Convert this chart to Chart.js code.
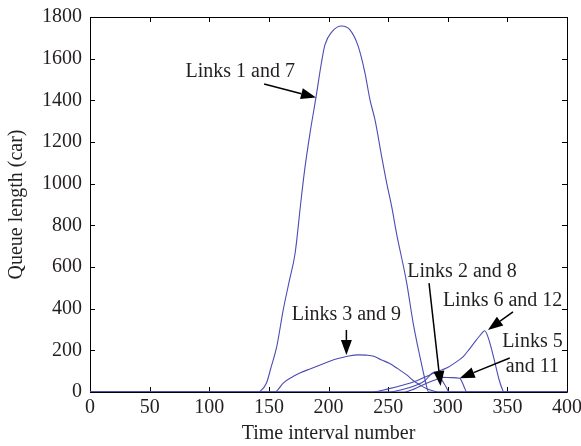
<!DOCTYPE html>
<html>
<head>
<meta charset="utf-8">
<script src="https://cdn.jsdelivr.net/npm/chart.js@4/dist/chart.umd.min.js"></script>
<style>
html,body{margin:0;padding:0;background:#fff;}
#wrap{width:581px;height:446px;position:relative;}
</style>
</head>
<body>
<div id="wrap"><canvas id="c" width="581" height="446"></canvas></div>
<script>
// ---- Data ----
const links1and7X = [0, 140, 143, 148, 152, 156.5, 162, 167, 172, 176.7, 180, 184.5, 189.5, 194, 197, 203, 211, 218, 225, 230.6, 234.8, 239, 244.6, 248.8, 253, 257, 265.6, 271, 276.7, 281, 284, 400];
const links1and7Y = [0, 0, 5, 43, 122, 215, 393, 530, 666, 906, 1066, 1243, 1414, 1578, 1666, 1730, 1757, 1738, 1658, 1531, 1402, 1306, 1130, 1003, 890, 763, 523, 331, 169, 58, 0, 0];

const links3and9X = [0, 155, 162, 169, 176, 185, 193, 201, 209.7, 217, 225, 232, 238, 244, 251, 258, 265.6, 271, 276.7, 282, 288, 292, 400];
const links3and9Y = [0, 0, 43, 70, 91, 112, 130, 148, 163, 173, 178, 177, 172, 155, 138, 112, 82, 55, 34, 17, 5, 0, 0];

const links6and12X = [0, 237, 250, 262, 274, 285, 292, 299, 306, 313, 318, 324, 328, 331, 334, 337, 340, 343, 346, 347, 400];
const links6and12Y = [0, 0, 15, 32, 54, 82, 100, 115, 140, 170, 205, 250, 278, 294, 260, 200, 130, 60, 10, 0, 0];

const links2and8X = [0, 251, 262, 274, 281, 285, 288, 291, 293.5, 297, 299, 301, 400];
const links2and8Y = [0, 0, 12, 34, 55, 80, 93, 85, 70, 40, 20, 0, 0];

const links5and11X = [0, 264, 272, 279, 288, 296, 303, 310, 313, 316, 400];
const links5and11Y = [0, 0, 15, 34, 55, 70, 69, 66, 35, 0, 0];

const xTicks = [0, 50, 100, 150, 200, 250, 300, 350, 400];
const yTicks = [0, 200, 400, 600, 800, 1000, 1200, 1400, 1600, 1800];

// annotations: label lines, label anchor (data coords), arrow from -> to (data coords)
const annotations = [
  {lines: ['Links 1 and 7'], at: [126, 1536], from: [146, 1478], to: [189.5, 1414]},
  {lines: ['Links 3 and 9'], at: [215, 370], from: [215, 298], to: [215, 178]},
  {lines: ['Links 2 and 8'], at: [312, 577], from: [284.3, 523], to: [294, 29]},
  {lines: ['Links 6 and 12'], at: [346, 438], from: [354.7, 385], to: [333.7, 298]},
  {lines: ['Links 5', 'and 11'], at: [371, 240], from: [352, 163], to: [310, 66]}
];

const LINE_COLOR = '#4b4bb4';
const TEXT_COLOR = '#231f20';
const FONT = '"Liberation Serif", "Times New Roman", serif';

function pts(xs, ys) { return xs.map((x, i) => ({x: x, y: ys[i]})); }

const series = [
  ['Links 1 and 7', links1and7X, links1and7Y],
  ['Links 3 and 9', links3and9X, links3and9Y],
  ['Links 6 and 12', links6and12X, links6and12Y],
  ['Links 2 and 8', links2and8X, links2and8Y],
  ['Links 5 and 11', links5and11X, links5and11Y]
];

const framePlugin = {
  id: 'frame',
  beforeDatasetsDraw(chart) {
    const {ctx, chartArea: a, scales} = chart;
    ctx.save();
    ctx.strokeStyle = '#000';
    ctx.lineWidth = 1;
    ctx.beginPath();
    ctx.rect(Math.round(a.left) + 0.5, Math.round(a.top) + 0.5, Math.round(a.right - a.left), Math.round(a.bottom - a.top));
    ctx.stroke();
    const L = 5;
    ctx.beginPath();
    xTicks.forEach(v => {
      const px = Math.round(scales.x.getPixelForValue(v)) + 0.5;
      ctx.moveTo(px, a.bottom); ctx.lineTo(px, a.bottom - L);
      ctx.moveTo(px, a.top); ctx.lineTo(px, a.top + L);
    });
    yTicks.forEach(v => {
      const py = Math.round(scales.y.getPixelForValue(v)) + 0.5;
      ctx.moveTo(a.left, py); ctx.lineTo(a.left + L, py);
      ctx.moveTo(a.right, py); ctx.lineTo(a.right - L, py);
    });
    ctx.stroke();
    ctx.restore();
  }
};

const annotPlugin = {
  id: 'annot',
  afterDatasetsDraw(chart) {
    const {ctx, scales} = chart;
    ctx.save();
    ctx.fillStyle = TEXT_COLOR;
    ctx.strokeStyle = '#000';
    ctx.font = '20px ' + FONT;
    ctx.textAlign = 'center';
    ctx.textBaseline = 'middle';
    annotations.forEach(an => {
      const tx = scales.x.getPixelForValue(an.at[0]);
      const ty = scales.y.getPixelForValue(an.at[1]);
      an.lines.forEach((ln, i) => ctx.fillText(ln, tx, ty + i * 25));
      const x1 = scales.x.getPixelForValue(an.from[0]);
      const y1 = scales.y.getPixelForValue(an.from[1]);
      const x2 = scales.x.getPixelForValue(an.to[0]);
      const y2 = scales.y.getPixelForValue(an.to[1]);
      const ang = Math.atan2(y2 - y1, x2 - x1);
      const hl = 15, hw = 5.5;
      const bx = x2 - hl * Math.cos(ang), by = y2 - hl * Math.sin(ang);
      ctx.lineWidth = 1.5;
      ctx.beginPath(); ctx.moveTo(x1, y1); ctx.lineTo(bx, by); ctx.stroke();
      ctx.fillStyle = '#000';
      ctx.beginPath();
      ctx.moveTo(x2, y2);
      ctx.lineTo(bx + hw * Math.sin(ang), by - hw * Math.cos(ang));
      ctx.lineTo(bx - hw * Math.sin(ang), by + hw * Math.cos(ang));
      ctx.closePath(); ctx.fill();
      ctx.fillStyle = TEXT_COLOR;
    });
    ctx.restore();
  }
};

new Chart(document.getElementById('c'), {
  type: 'line',
  data: {
    datasets: series.map(s => ({
      label: s[0],
      data: pts(s[1], s[2]),
      borderColor: LINE_COLOR,
      borderWidth: 1.1,
      pointRadius: 0,
      cubicInterpolationMode: 'monotone',
      fill: false
    }))
  },
  options: {
    responsive: false,
    animation: false,
    devicePixelRatio: 1,
    layout: {padding: {top: 17, right: 14, left: 5, bottom: 0}},
    plugins: {legend: {display: false}, tooltip: {enabled: false}},
    scales: {
      x: {
        type: 'linear', min: 0, max: 400,
        afterFit: s => { s.height = 54; s.paddingLeft = 0; s.paddingRight = 0; },
        afterBuildTicks: s => { s.ticks = xTicks.map(v => ({value: v})); },
        grid: {display: false, drawTicks: false},
        border: {display: false},
        ticks: {color: TEXT_COLOR, font: {family: FONT, size: 20}, padding: 4, maxRotation: 0, callback: v => String(v)},
        title: {display: true, text: 'Time interval number', color: TEXT_COLOR, font: {family: FONT, size: 20}, padding: 0}
      },
      y: {
        min: 0, max: 1800,
        afterFit: s => { s.width = 85; s.paddingTop = 0; s.paddingBottom = 0; },
        afterBuildTicks: s => { s.ticks = yTicks.map(v => ({value: v})); },
        grid: {display: false, drawTicks: false},
        border: {display: false},
        ticks: {color: TEXT_COLOR, font: {family: FONT, size: 20}, padding: 8, callback: v => String(v)},
        title: {display: true, text: 'Queue length (car)', color: TEXT_COLOR, font: {family: FONT, size: 20}, padding: 0}
      }
    }
  },
  plugins: [framePlugin, annotPlugin]
});
</script>
</body>
</html>
